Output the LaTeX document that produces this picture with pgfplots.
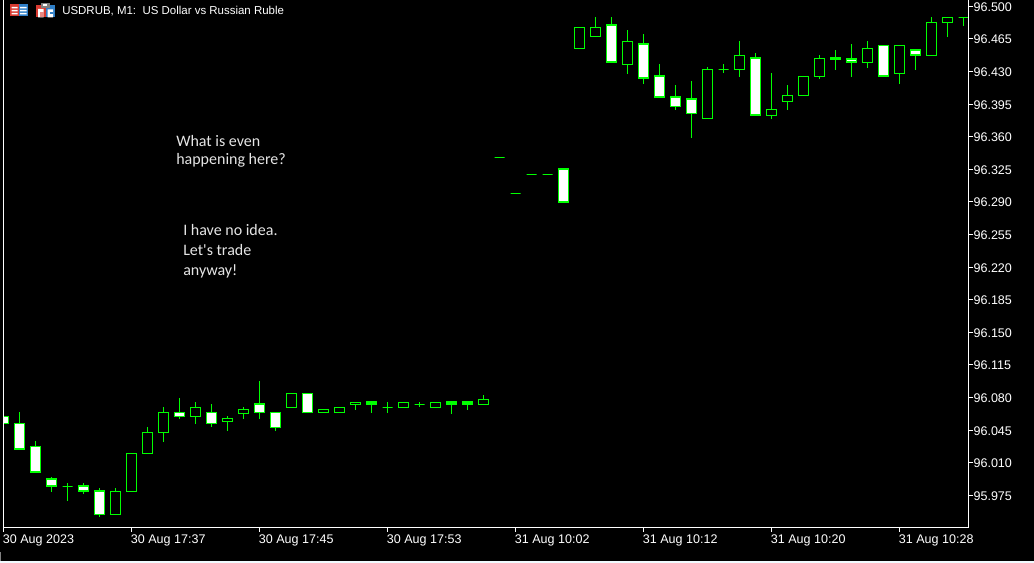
\documentclass[border=0pt]{standalone}
\usepackage{pgfplots}
\usepackage{pgfplotstable}
\usepackage{fontspec}
\pgfplotsset{compat=1.18}
\setmainfont{Liberation Sans}
\newfontfamily\notefont{Carlito}
\definecolor{candle}{HTML}{00FF00}
\definecolor{iconred}{HTML}{D83B32}
\definecolor{iconblue}{HTML}{2F7FC8}

% i = bar number, w = 1 for the filled (white) candles
\pgfplotstableread{
i top bot high low w
0 96.0598 96.0523 96.0598 96.0523 1
1 96.0523 96.0244 96.0641 96.0244 1
2 96.0276 95.9997 96.0333 95.9997 1
3 95.9922 95.9847 95.9943 95.9789 1
4 95.9847 95.9847 95.9879 95.9692 0
5 95.9847 95.9793 95.9879 95.9767 1
6 95.9793 95.9546 95.9825 95.9520 1
7 95.9793 95.9546 95.9825 95.9546 0
8 96.0201 95.9793 96.0201 95.9793 0
9 96.0427 96.0201 96.0480 96.0201 0
10 96.0641 96.0427 96.0695 96.0326 0
11 96.0641 96.0598 96.0792 96.0572 1
12 96.0695 96.0598 96.0749 96.0519 0
13 96.0641 96.0523 96.0727 96.0487 1
14 96.0577 96.0545 96.0598 96.0444 0
15 96.0673 96.0630 96.0695 96.0572 0
16 96.0727 96.0641 96.0974 96.0572 1
17 96.0641 96.0480 96.0641 96.0444 1
18 96.0845 96.0695 96.0845 96.0695 0
19 96.0845 96.0641 96.0845 96.0641 1
20 96.0673 96.0641 96.0673 96.0641 0
21 96.0695 96.0641 96.0695 96.0641 0
22 96.0749 96.0727 96.0749 96.0666 0
23 96.0749 96.0727 96.0749 96.0637 1
24 96.0695 96.0695 96.0749 96.0637 0
25 96.0749 96.0695 96.0749 96.0695 0
26 96.0727 96.0727 96.0749 96.0695 0
27 96.0749 96.0695 96.0749 96.0695 0
28 96.0749 96.0727 96.0749 96.0626 1
29 96.0749 96.0727 96.0749 96.0666 1
30 96.0781 96.0727 96.0824 96.0727 0
31 96.3379 96.3379 96.3379 96.3379 0
32 96.2992 96.2992 96.2992 96.2992 0
33 96.3196 96.3196 96.3196 96.3196 0
34 96.3196 96.3196 96.3196 96.3196 0
35 96.3250 96.2896 96.3250 96.2896 1
36 96.4775 96.4549 96.4775 96.4549 0
37 96.4775 96.4678 96.4882 96.4678 0
38 96.4796 96.4399 96.4882 96.4399 1
39 96.4624 96.4377 96.4742 96.4276 0
40 96.4592 96.4227 96.4699 96.4169 1
41 96.4249 96.4023 96.4377 96.4023 1
42 96.4023 96.3926 96.4152 96.3890 1
43 96.4002 96.3851 96.4195 96.3589 1
44 96.4324 96.3798 96.4345 96.3798 0
45 96.4324 96.4324 96.4377 96.4287 0
46 96.4474 96.4324 96.4624 96.4244 0
47 96.4442 96.3830 96.4495 96.3830 1
48 96.3894 96.3830 96.4281 96.3793 0
49 96.4045 96.3980 96.4152 96.3890 0
50 96.4249 96.4045 96.4249 96.4045 0
51 96.4442 96.4249 96.4474 96.4223 0
52 96.4442 96.4431 96.4528 96.4319 1
53 96.4431 96.4399 96.4592 96.4244 1
54 96.4549 96.4399 96.4624 96.4341 0
55 96.4581 96.4249 96.4581 96.4249 1
56 96.4581 96.4281 96.4581 96.4169 0
57 96.4528 96.4474 96.4528 96.4319 1
58 96.4828 96.4474 96.4882 96.4474 0
59 96.4882 96.4828 96.4882 96.4674 0
60 96.4882 96.4882 96.4882 96.4792 0
}\candles

\begin{document}
\begin{tikzpicture}
\useasboundingbox (0,0) rectangle (775.5pt,422.25pt);
\fill[black] (0,0) rectangle (775.5pt,422.25pt);
\begin{axis}[
	at={(2.625pt,26.25pt)},anchor=south west,
	scale only axis,width=723.75pt,height=397.5pt,
	xmin=0,xmax=60.3125,ymin=95.9399,ymax=96.5089,
	axis line style={white,line width=0.75pt},
	tick style={white,line width=0.75pt},
	tick align=outside,major tick length=3pt,
	xtick pos=bottom,ytick pos=right,yticklabel pos=right,
	xtick={0,8,16,24,32,40,48,56},
	xticklabels={30 Aug 2023,30 Aug 17:37,30 Aug 17:45,30 Aug 17:53,31 Aug 10:02,31 Aug 10:12,31 Aug 10:20,31 Aug 10:28},
	ytick={95.975,96.01,96.045,96.08,96.115,96.15,96.185,96.22,96.255,96.29,96.325,96.36,96.395,96.43,96.465,96.5},
	yticklabel style={/pgf/number format/fixed,/pgf/number format/fixed zerofill,/pgf/number format/precision=3,/pgf/number format/assume math mode=true,text=white,font=\fontsize{9.4pt}{11pt}\selectfont,anchor=west,inner sep=0pt,xshift=0.6pt,yshift=-0.5pt},
	xticklabel style={text=white,font=\fontsize{9.4pt}{11pt}\selectfont,anchor=north west,inner sep=0pt,xshift=-0.6pt,yshift=-2pt},
	axis on top]
\pgfplotsforeachungrouped \r in {0,...,60}{
	\pgfplotstablegetelem{\r}{top}\of\candles \let\ctop\pgfplotsretval
	\pgfplotstablegetelem{\r}{bot}\of\candles \let\cbot\pgfplotsretval
	\pgfplotstablegetelem{\r}{high}\of\candles \let\chigh\pgfplotsretval
	\pgfplotstablegetelem{\r}{low}\of\candles \let\clow\pgfplotsretval
	\pgfplotstablegetelem{\r}{w}\of\candles \let\cw\pgfplotsretval
	\pgfmathsetmacro\xl{\r-0.3125}
	\pgfmathsetmacro\xr{\r+0.3125}
	\addplot[forget plot,candle,line width=0.75pt] coordinates {(\r,\chigh) (\r,\clow)};
	\ifnum\cw=1
		\addplot[forget plot,fill=white,draw=candle,line width=1.2pt] coordinates {(\xl,\ctop) (\xr,\ctop) (\xr,\cbot) (\xl,\cbot)} -- cycle;
	\else
		\addplot[forget plot,fill=black,draw=candle,line width=0.8pt] coordinates {(\xl,\ctop) (\xr,\ctop) (\xr,\cbot) (\xl,\cbot)} -- cycle;
	\fi
}
\end{axis}
\begin{scope}[x=0.75pt,y=-0.75pt,yshift=422.25pt]
% title icons
\fill[iconred] (9.5,4.5) rectangle (19,16.5);
\fill[iconblue] (19,4.5) rectangle (28,16.5);
\fill[white] (11.5,7) rectangle (17.5,8.5) (11.5,10) rectangle (17.5,11.5) (11.5,13) rectangle (17.5,14.5);
\fill[white] (20,7) rectangle (26.5,8.5) (20,10) rectangle (26.5,11.5) (20,13) rectangle (26.5,14.5);
\fill[iconred] (36,5) rectangle (45.5,17.5);
\fill[iconblue] (45.5,5) rectangle (55,17.5);
\fill[white] (38,9) rectangle (43.5,17.5) (47.5,9.5) rectangle (53,17.5);
\fill[iconred!60!white] (40,12) rectangle (43.5,17.5);
\fill[iconblue] (49.5,12.5) rectangle (53,14);
\fill[gray] (41,3.5) rectangle (50,8.5);
\fill[white] (43,4.5) rectangle (47,6.5);
\node[anchor=west,inner sep=0pt,text=white,font=\fontsize{8.6pt}{11pt}\selectfont] at (62,11.5) {USDRUB, M1:\ \ US Dollar vs Russian Ruble};
% notes drawn on the screenshot
\node[anchor=north west,inner sep=0pt,align=left,text=white!90!black,font=\notefont\fontsize{12pt}{14pt}\selectfont] at (176,134.7) {What is even\\happening here?};
\node[anchor=north west,inner sep=0pt,align=left,text=white!90!black,font=\notefont\fontsize{12pt}{15pt}\selectfont] at (183,224) {I have no idea.\\Let's trade\\anyway!};
% window edge
\fill[white!94!cyan] (0,560.8) rectangle (1034,563);
\fill[gray] (0,552) rectangle (1.3,560.8);
\end{scope}
\end{tikzpicture}
\end{document}
